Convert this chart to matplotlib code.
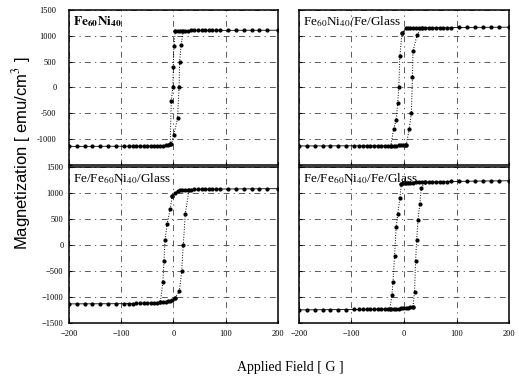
import matplotlib
matplotlib.use('Agg')
import matplotlib.pyplot as plt

plt.rcParams['font.family'] = ['Liberation Serif', 'DejaVu Serif']
plt.rcParams['mathtext.fontset'] = 'stix'

# saturated parts of the loops (fields in G, magnetization in emu/cm^3)
H_neg = [-200, -185, -170, -155, -140, -125, -110, -95, -85, -78, -71, -64, -57,
         -50, -43, -37, -31, -25, -20, -15, -10, -6]
H_pos = [4, 8, 12, 17, 22, 28, 34, 40, 47, 54, 61, 68, 75, 82, 90, 105, 120,
         135, 150, 165, 180, 200]

# Fe60Ni40
p1_lo = [-1140, -1140, -1140, -1139, -1139, -1138, -1138, -1137, -1137, -1136, -1136,
         -1135, -1135, -1134, -1133, -1132, -1130, -1128, -1125, -1120, -1112, -1100]
p1_hi = [1096, 1098, 1100, 1100, 1101, 1101, 1102, 1102, 1103, 1103, 1103, 1104, 1104,
         1104, 1105, 1105, 1105, 1106, 1106, 1106, 1107, 1107]
p1_up_H = [-4, 1, 8, 11, 12, 15, 19]
p1_up_M = [-1100, -917, -600, 0, 500, 827, 1098]
p1_dn_H = [4, 1, 0, -1, -4, -6]
p1_dn_M = [1096, 800, 400, 0, -263, -1100]

# Fe60Ni40/Fe/Glass
p2_lo_H = H_neg + [-2, 1, 4]
p2_lo = [-1132, -1132, -1131, -1131, -1131, -1130, -1130, -1130, -1130, -1129, -1129,
         -1129, -1129, -1128, -1128, -1128, -1127, -1126, -1125, -1124, -1123, -1122,
         -1121, -1120, -1118]
p2_hi_H = [-4] + H_pos
p2_hi = [1050, 1146, 1148, 1150, 1151, 1152, 1153, 1154, 1155, 1155, 1156, 1157, 1157,
         1158, 1158, 1159, 1160, 1161, 1162, 1163, 1164, 1165, 1166]
p2_up_H = [4, 10, 14, 16, 17, 25, 34]
p2_up_M = [-1118, -800, -488, 200, 700, 1019, 1153]
p2_dn_H = [-4, -8, -10, -12, -15, -20, -25]
p2_dn_M = [1050, 600, 0, -300, -631, -808, -1124]

# Fe/Fe60Ni40/Glass
p3_lo_H = H_neg + [-2, 3]
p3_lo = [-1130, -1130, -1129, -1129, -1128, -1128, -1127, -1126, -1125, -1124, -1122,
         -1120, -1118, -1116, -1113, -1110, -1106, -1101, -1095, -1088, -1080, -1070,
         -1055, -1018]
p3_hi_H = [-2] + H_pos
p3_hi = [955, 1010, 1040, 1055, 1062, 1066, 1069, 1071, 1073, 1075, 1076, 1077, 1078,
         1079, 1080, 1081, 1082, 1083, 1084, 1085, 1086, 1087, 1088]
p3_up_H = [3, 11.6, 16, 19, 23, 30]
p3_up_M = [-1018, -889, -500, 0, 609, 1066]
p3_dn_H = [-2, -6, -12, -16, -18, -20, -25]
p3_dn_M = [955, 700, 400, 102, -300, -700, -1101]

# Fe/Fe60Ni40/Fe/Glass
p4_lo_H = H_neg + [-2, 3, 8, 12, 17]
p4_lo = [-1246, -1245, -1244, -1243, -1242, -1241, -1240, -1238, -1237, -1236, -1235,
         -1234, -1233, -1232, -1230, -1229, -1228, -1226, -1224, -1222, -1220, -1217,
         -1213, -1208, -1202, -1195, -1181]
p4_hi_H = [-5, -2, 1] + H_pos
p4_hi = [1182, 1190, 1195, 1198, 1200, 1202, 1205, 1207, 1209, 1211, 1213, 1215, 1217,
         1219, 1221, 1223, 1225, 1227, 1229, 1231, 1233, 1235, 1237, 1238, 1240]
p4_up_H = [17, 20, 22, 24, 26.5, 30, 33, 40]
p4_up_M = [-1181, -900, -300, 100, 478, 800, 1098, 1213]
p4_dn_H = [-5, -8, -12, -15, -18, -21, -23, -27]
p4_dn_M = [1182, 900, 600, 350, -200, -700, -960, -1226]

labels = [r'$\mathbf{Fe_{60}Ni_{40}}$', r'Fe$_{60}$Ni$_{40}$/Fe/Glass',
          r'Fe/Fe$_{60}$Ni$_{40}$/Glass', r'Fe/Fe$_{60}$Ni$_{40}$/Fe/Glass']

panels = [
    (H_neg, p1_lo, H_pos, p1_hi, p1_up_H, p1_up_M, p1_dn_H, p1_dn_M),
    (p2_lo_H, p2_lo, p2_hi_H, p2_hi, p2_up_H, p2_up_M, p2_dn_H, p2_dn_M),
    (p3_lo_H, p3_lo, p3_hi_H, p3_hi, p3_up_H, p3_up_M, p3_dn_H, p3_dn_M),
    (p4_lo_H, p4_lo, p4_hi_H, p4_hi, p4_up_H, p4_up_M, p4_dn_H, p4_dn_M),
]

xticks = [-200, -100, 0, 100, 200]
yticks = [-1500, -1000, -500, 0, 500, 1000, 1500]

fig = plt.figure(figsize=(5.19, 3.81), dpi=100)
pos = [[0.133, 0.567, 0.402, 0.407], [0.576, 0.567, 0.405, 0.407],
       [0.133, 0.152, 0.402, 0.409], [0.576, 0.152, 0.405, 0.409]]

for i, (p, lab) in enumerate(zip(panels, labels)):
    ax = fig.add_axes(pos[i])
    lo_H, lo_M, hi_H, hi_M, up_H, up_M, dn_H, dn_M = p
    ax.plot(lo_H, lo_M, '-', color='k', lw=0.6, marker='o', ms=2.0)
    ax.plot(hi_H, hi_M, '-', color='k', lw=0.6, marker='o', ms=2.0)
    ax.plot(up_H, up_M, ':', color='k', lw=0.7, marker='o', ms=2.0)
    ax.plot(dn_H, dn_M, ':', color='k', lw=0.7, marker='o', ms=2.0)
    ax.set_xlim(-200, 200)
    ax.set_ylim(-1500, 1500)
    ax.set_xticks(xticks)
    ax.set_yticks(yticks)
    ax.grid(True, color='0.25', lw=0.6, linestyle=(0, (7, 5, 1.5, 5)))
    ax.tick_params(direction='in', length=2, width=0.8, labelsize=6)
    ax.tick_params(axis='x', pad=5)
    ax.tick_params(axis='y', pad=9 if i == 0 else 4)
    for s in ax.spines.values():
        s.set_linewidth(1.1)
    if i < 2:
        ax.set_xticklabels([])
    if i % 2 == 1:
        ax.set_yticklabels([])
    if i == 0:
        ax.set_yticklabels(['', '-1000', '-500', '0', '500', '1000', '1500'])
    ax.text(0.02, 0.975, lab, transform=ax.transAxes, ha='left', va='top', fontsize=9.5)

fig.text(0.042, 0.598, 'Magnetization [ emu/cm$^3$ ]', rotation=90, ha='center',
         va='center', fontsize=12, family=['Liberation Sans', 'DejaVu Sans'])
fig.text(0.56, 0.035, 'Applied Field [ G ]', ha='center', va='center', fontsize=10)

fig.savefig('out.png', dpi=100)
